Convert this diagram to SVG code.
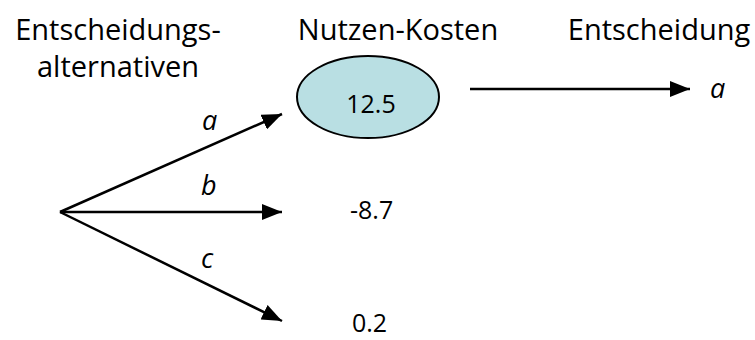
<svg xmlns="http://www.w3.org/2000/svg" width="755" height="340" viewBox="0 0 755 340">
<style>
.t{font-family:"Open Sans","Liberation Sans",sans-serif;font-size:29px;fill:#000}
.v{font-family:"Open Sans","Liberation Sans",sans-serif;font-size:25px;fill:#000}
.i{font-family:"Open Sans","Liberation Sans",sans-serif;font-size:27px;font-style:italic;fill:#000}
.c{stroke:#000;stroke-width:2.5;fill:none}
</style>
<defs>
<marker id="a2" viewBox="0 0 20 16" refX="20" refY="8" markerWidth="20" markerHeight="16" markerUnits="userSpaceOnUse" orient="auto">
<path d="M0,0 L20,8 L0,16 z" fill="#000"/>
</marker>
</defs>
<g id="headers">
<text class="t" x="118" y="40" text-anchor="middle">Entscheidungs-</text>
<text class="t" x="118" y="77" text-anchor="middle">alternativen</text>
<text class="t" x="398" y="40" text-anchor="middle">Nutzen-Kosten</text>
<text class="t" x="659" y="40" text-anchor="middle">Entscheidung</text>
</g>
<g id="node-a">
<ellipse cx="368" cy="97" rx="71" ry="41" fill="#b9dfe3" stroke="#000" stroke-width="2"/>
<text class="v" x="371" y="113" text-anchor="middle">12.5</text>
</g>
<g id="node-b">
<text class="v" x="350" y="219">-8.7</text>
</g>
<g id="node-c">
<text class="v" x="352" y="332">0.2</text>
</g>
<g id="node-decision">
<text class="i" x="710" y="98">a</text>
</g>
<g id="connectors">
<line class="c" x1="60" y1="212" x2="282" y2="114" marker-end="url(#a2)"/>
<line class="c" x1="60" y1="212" x2="282" y2="212" marker-end="url(#a2)"/>
<line class="c" x1="60" y1="212" x2="282" y2="321" marker-end="url(#a2)"/>
<line class="c" x1="470" y1="89" x2="690" y2="89" marker-end="url(#a2)"/>
<text class="i" x="202" y="130">a</text>
<text class="i" x="201" y="195">b</text>
<text class="i" x="201" y="268">c</text>
</g>
</svg>
